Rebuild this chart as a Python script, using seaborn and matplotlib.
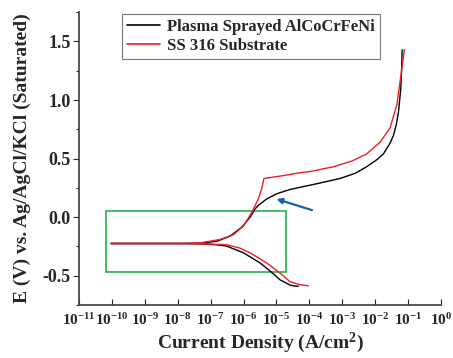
import numpy as np
import pandas as pd
import seaborn as sns
from matplotlib import pyplot as plt
from matplotlib.patches import Rectangle
from matplotlib.ticker import LogLocator, LogFormatterMathtext, MultipleLocator

# log10 of current density (A/cm2) and potential (V)
coat_anodic_logi = [-10.03, -8.0, -7.3, -6.8, -6.4, -6.05, -5.8, -5.65, -5.55, -5.3,
                    -4.99, -4.6, -4.28, -3.78, -3.07, -2.6, -2.26, -1.95, -1.75,
                    -1.55, -1.44, -1.35, -1.29, -1.22, -1.19, -1.18]
coat_anodic_e = [-0.224, -0.224, -0.222, -0.205, -0.16, -0.085, 0.0, 0.07, 0.10, 0.155,
                 0.20, 0.235, 0.255, 0.285, 0.33, 0.375, 0.43, 0.49, 0.54,
                 0.63, 0.70, 0.80, 0.90, 1.10, 1.30, 1.43]
coat_cathodic_logi = [-10.03, -8.0, -7.3, -6.8, -6.51, -6.0, -5.5, -5.19, -4.89, -4.59, -4.45, -4.33]
coat_cathodic_e = [-0.226, -0.226, -0.228, -0.236, -0.247, -0.305, -0.39, -0.46, -0.535, -0.58, -0.588, -0.59]

ss_anodic_logi = [-10.03, -8.0, -7.32, -6.71, -6.31, -6.0, -5.75, -5.55, -5.45, -5.38,
                  -4.79, -4.28, -3.98, -3.27, -2.7, -2.26, -1.85, -1.55, -1.34,
                  -1.24, -1.16, -1.11]
ss_anodic_e = [-0.224, -0.224, -0.22, -0.19, -0.15, -0.075, 0.04, 0.155, 0.24, 0.33,
               0.355, 0.38, 0.39, 0.43, 0.48, 0.54, 0.64, 0.76, 0.96,
               1.16, 1.33, 1.43]
ss_cathodic_logi = [-10.03, -8.0, -7.3, -6.51, -6.1, -5.8, -5.3, -4.89, -4.59, -4.28, -4.03]
ss_cathodic_e = [-0.226, -0.226, -0.227, -0.235, -0.265, -0.305, -0.39, -0.477, -0.55, -0.577, -0.586]

labels = ["Plasma Sprayed AlCoCrFeNi", "SS 316 Substrate"]
colors = ["black", "#ee1c25"]


def branch_df(logi, e, sample, branch):
    return pd.DataFrame({"current": 10.0 ** np.array(logi), "potential": e,
                         "sample": sample, "branch": branch})


df = pd.concat([
    branch_df(coat_anodic_logi, coat_anodic_e, labels[0], "c_an"),
    branch_df(coat_cathodic_logi, coat_cathodic_e, labels[0], "c_cat"),
    branch_df(ss_anodic_logi, ss_anodic_e, labels[1], "s_an"),
    branch_df(ss_cathodic_logi, ss_cathodic_e, labels[1], "s_cat"),
], ignore_index=True)

sns.set_theme(style="ticks")
plt.rcParams['font.family'] = ['Liberation Serif', 'DejaVu Serif']
plt.rcParams['font.weight'] = 'bold'
plt.rcParams['mathtext.fontset'] = 'custom'
plt.rcParams['mathtext.rm'] = 'Liberation Serif:bold'
plt.rcParams['mathtext.it'] = 'Liberation Serif:bold'
plt.rcParams['mathtext.bf'] = 'Liberation Serif:bold'

fig = plt.figure(figsize=(4.53, 3.58), dpi=100)
ax = fig.add_axes([0.1744, 0.148, 0.799, 0.818])

sns.lineplot(data=df, x="current", y="potential", hue="sample", units="branch",
             estimator=None, sort=False, palette=colors, hue_order=labels,
             linewidth=1.0, ax=ax)

ax.set_xscale('log')
ax.set_xlim(1e-11, 1e0)
ax.set_ylim(-0.75, 1.75)
ax.xaxis.set_major_locator(LogLocator(base=10, numticks=15))
ax.xaxis.set_major_formatter(LogFormatterMathtext())
ax.xaxis.set_minor_locator(plt.NullLocator())
ax.yaxis.set_minor_locator(MultipleLocator(0.25))
ax.tick_params(axis='x', direction='in', length=4, width=0.8, labelsize=11, pad=5)
ax.tick_params(axis='y', which='major', direction='out', length=4, width=0.8, labelsize=13, pad=2)
ax.tick_params(axis='y', which='minor', direction='out', length=2.5, width=0.8)
ax.set_yticks([-0.5, 0.0, 0.5, 1.0, 1.5])
ax.set_yticklabels(["-0.5", "0.0", "0.5", "1.0", "1.5"])
sns.despine(ax=ax, top=True, right=True)
for sp in ax.spines.values():
    sp.set_color('#444444')

ax.set_xlabel("Current Density (A/cm$^2$)", fontsize=14, fontweight='bold', labelpad=2)
ax.set_ylabel("E (V) vs. Ag/AgCl/KCl (Saturated)", fontsize=14, fontweight='bold', labelpad=8)

# green box around the Tafel region
ax.add_patch(Rectangle((10 ** -10.18, -0.47), 10 ** -4.71 - 10 ** -10.18, 0.525,
                       fill=False, edgecolor='#22b24c', linewidth=1.2, zorder=1))
# blue arrow pointing at the shoulder of the coating curve
ax.annotate("", xy=(10 ** -5.0, 0.155), xytext=(10 ** -3.92, 0.06),
            arrowprops=dict(arrowstyle='-|>', color='#1f5fa8', lw=1.6,
                            mutation_scale=8, shrinkA=0, shrinkB=0))

leg = ax.legend(loc='upper left', bbox_to_anchor=(0.119, 0.995), borderaxespad=0,
                fancybox=False, edgecolor='#777777', framealpha=1,
                prop={'family': 'Liberation Serif', 'weight': 'bold', 'size': 12},
                handlelength=2.0, handletextpad=0.4, borderpad=0.3, labelspacing=0.2)
leg.get_frame().set_linewidth(0.8)
for line in leg.get_lines():
    line.set_linewidth(1.2)

fig.savefig("out.png", dpi=100)
